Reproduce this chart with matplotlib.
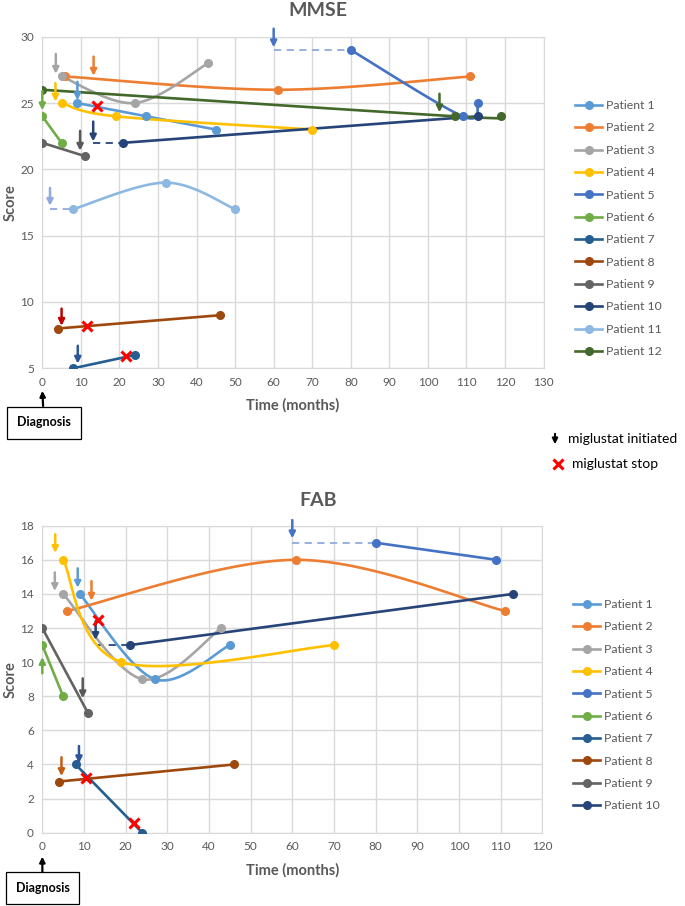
import numpy as np
import matplotlib
matplotlib.use("Agg")
import matplotlib.pyplot as plt
from matplotlib.lines import Line2D

plt.rcParams['font.family'] = ['Lato', 'DejaVu Sans']

W, H = 685, 906
GRID = '#D9D9D9'
TXT = '#595959'

patients = [f"Patient {i}" for i in range(1, 13)]
colors = ['#5B9BD5', '#ED7D31', '#A5A5A5', '#FFC000', '#4472C4', '#70AD47',
          '#255E91', '#9E480E', '#636363', '#264478', '#8CB8E2', '#43682B']

# ---------------- MMSE data ----------------
mmse_x = [[9, 27, 45], [6, 61, 111], [5, 24, 43], [5, 19, 70], [80, 109, 113], [0, 5],
          [8, 24], [4, 46], [0, 11], [21, 113], [8, 32, 50], [0, 107, 119]]
mmse_y = [[25, 24, 23], [27, 26, 27], [27, 25, 28], [25, 24, 23], [29, 24, 25], [24, 22],
          [5, 6], [8, 9], [22, 21], [22, 24], [17, 19, 17], [26, 24, 24]]
# miglustat initiated arrows: patient index, month, arrow tail y, arrow tip y
mmse_start_pat = [2, 1, 3, 0, 5, 9, 8, 10, 4, 11, 7, 6]
mmse_start_x = [3.5, 13.3, 3.4, 9.1, 0, 13.2, 9.8, 2, 60, 103, 5, 9.2]
mmse_start_y0 = [28.7, 28.5, 26.5, 26.6, 25.9, 23.6, 22.9, 18.6, 30.6, 25.7, 9.5, 6.7]
mmse_start_y1 = [27.2, 27.05, 25.1, 25.2, 24.45, 22.1, 21.4, 17.25, 29.2, 24.3, 8.2, 5.35]
mmse_arrow_col = ['#A5A5A5', '#ED7D31', '#FFC000', '#5B9BD5', '#70AD47', '#264478',
                  '#595959', '#8FAADC', '#4472C4', '#43682B', '#C00000', '#2E5597']
# dashed waiting lines: patient, from month, to month, level
mmse_dash_pat = [4, 9, 10]
mmse_dash_x0 = [60, 13.2, 2]
mmse_dash_x1 = [80, 21, 8]
mmse_dash_y = [29, 22, 17]
# miglustat stop
mmse_stop_x = [14.3, 11.6, 21.7]
mmse_stop_y = [24.8, 8.2, 5.9]

# ---------------- FAB data ----------------
fab_x = [[9, 27, 45], [6, 61, 111], [5, 24, 43], [5, 19, 70], [80, 109], [0, 5],
         [8, 24], [4, 46], [0, 11], [21, 113]]
fab_y = [[14, 9, 11], [13, 16, 13], [14, 9, 12], [16, 10, 11], [17, 16], [11, 8],
         [4, 0], [3, 4], [12, 7], [11, 14]]
fab_start_pat = [3, 2, 0, 1, 9, 5, 8, 4, 7, 6]
fab_start_x = [3.1, 3, 8.5, 11.8, 12.8, 0, 9.7, 60, 4.6, 8.8]
fab_start_y0 = [17.5, 15.26, 15.5, 14.75, 12.4, 9.35, 9.05, 18.33, 4.42, 5.08]
fab_start_y1 = [16.4, 14.17, 14.36, 13.6, 11.3, 10.3, 7.88, 17.26, 3.32, 4.07]
fab_arrow_col = ['#FFC000', '#A5A5A5', '#5B9BD5', '#ED7D31', '#264478', '#70AD47',
                 '#595959', '#4472C4', '#C55A11', '#2E5597']
fab_dash_pat = [4, 9]
fab_dash_x0 = [60, 12.8]
fab_dash_x1 = [80, 21]
fab_dash_y = [17, 11]
fab_stop_x = [13.3, 10.5, 21.9]
fab_stop_y = [12.5, 3.2, 0.55]

dash_colors = {4: '#8FAADC', 9: '#264478', 10: '#8FAADC'}


def smooth(xs, ys, n=40):
    pts = np.column_stack([xs, ys]).astype(float)
    if len(pts) < 3:
        return pts[:, 0], pts[:, 1]
    out = []
    for i in range(len(pts) - 1):
        p0 = pts[i - 1] if i > 0 else pts[i]
        p1 = pts[i]
        p2 = pts[i + 1]
        p3 = pts[i + 2] if i + 2 < len(pts) else pts[i + 1]
        c1 = p1 + (p2 - p0) / 6
        c2 = p2 - (p3 - p1) / 6
        t = np.linspace(0, 1, n)[:, None]
        seg = (1 - t) ** 3 * p1 + 3 * (1 - t) ** 2 * t * c1 + 3 * (1 - t) * t ** 2 * c2 + t ** 3 * p2
        out.append(seg if i == 0 else seg[1:])
    seg = np.vstack(out)
    return seg[:, 0], seg[:, 1]


fig = plt.figure(figsize=(W / 100, H / 100), dpi=100)


def px_rect(l, t, r, b):
    return [l / W, 1 - b / H, (r - l) / W, (b - t) / H]


def setup(ax, xmax, xstep, ymin, ymax, ystep, title, title_xy, xlab_y):
    ax.set_xlim(0, xmax)
    ax.set_ylim(ymin, ymax)
    ax.set_xticks(np.arange(0, xmax + 1, xstep))
    ax.set_yticks(np.arange(ymin, ymax + 0.1, ystep))
    ax.grid(True, color=GRID, lw=1)
    ax.set_axisbelow(True)
    for s in ax.spines.values():
        s.set_color(GRID)
    ax.tick_params(length=0, labelsize=8.5, colors=TXT, pad=6)
    ax.set_xlabel('Time (months)', fontsize=10.5, fontweight='bold', color=TXT)
    ax.set_ylabel('Score', fontsize=10.5, fontweight='bold', color=TXT)
    ax.xaxis.set_label_coords(0.5, xlab_y)
    ax.yaxis.set_label_coords(-0.05, 0.5)
    fig.text(title_xy[0] / W, 1 - title_xy[1] / H, title, fontsize=14, fontweight='bold',
             color=TXT, ha='center', va='center')


def draw(ax, xs_list, ys_list, n, spat, sx, sy0, sy1, scol, dpat, dx0, dx1, dy, stx, sty):
    handles = []
    for i in range(n):
        xx, yy = smooth(xs_list[i], ys_list[i])
        ax.plot(xx, yy, color=colors[i], lw=1.9, zorder=3, solid_capstyle='round')
        ax.plot(xs_list[i], ys_list[i], ls='none', marker='o', ms=5.5, color=colors[i], zorder=4)
        handles.append(Line2D([], [], color=colors[i], lw=1.9, marker='o', ms=5.5, label=patients[i]))
    for p, a, b, y in zip(dpat, dx0, dx1, dy):
        ax.plot([a, b], [y, y], ls=(0, (4, 3)), color=dash_colors[p], lw=1.3, zorder=2)
    for p, x, y0, y1, c in zip(spat, sx, sy0, sy1, scol):
        ax.annotate('', xy=(x, y1), xytext=(x, y0),
                    arrowprops=dict(arrowstyle='-|>', color=c, lw=1.8, mutation_scale=9,
                                    shrinkA=0, shrinkB=0),
                    annotation_clip=False, zorder=5)
    ax.plot(stx, sty, ls='none', marker='x', color='#FF0000', ms=7, mew=2.2, zorder=6)
    return handles


# ---------------- MMSE axes ----------------
ax1 = fig.add_axes(px_rect(42.3, 36.7, 543.6, 368.3))
setup(ax1, 130, 10, 5, 30, 5, 'MMSE', (318, 10), -0.09)
h1 = draw(ax1, mmse_x, mmse_y, 12, mmse_start_pat, mmse_start_x, mmse_start_y0, mmse_start_y1,
          mmse_arrow_col, mmse_dash_pat, mmse_dash_x0, mmse_dash_x1, mmse_dash_y,
          mmse_stop_x, mmse_stop_y)
fig.legend(handles=h1, loc='upper left', bbox_to_anchor=(569 / W, 1 - 94 / H), frameon=False,
           fontsize=8.8, labelspacing=0.93, handlelength=2.2, handletextpad=0.3, borderpad=0,
           labelcolor=TXT)
ax1.annotate('Diagnosis', xy=(0, -0.068), xycoords=('data', 'axes fraction'),
             xytext=(44 / W, 1 - 422.5 / H), textcoords='figure fraction',
             ha='center', va='center', fontsize=9, fontweight='bold', color='black',
             bbox=dict(boxstyle='square,pad=0.8', fc='white', ec='black', lw=0.9),
             arrowprops=dict(arrowstyle='-|>', color='black', lw=1.6, mutation_scale=8,
                             shrinkA=0, shrinkB=0),
             annotation_clip=False)

# ---------------- FAB axes ----------------
ax2 = fig.add_axes(px_rect(42.3, 525.7, 542.3, 832.7))
setup(ax2, 120, 10, 0, 18, 2, 'FAB', (318, 500), -0.099)
h2 = draw(ax2, fab_x, fab_y, 10, fab_start_pat, fab_start_x, fab_start_y0, fab_start_y1,
          fab_arrow_col, fab_dash_pat, fab_dash_x0, fab_dash_x1, fab_dash_y,
          fab_stop_x, fab_stop_y)
fig.legend(handles=h2, loc='upper left', bbox_to_anchor=(567 / W, 1 - 593 / H), frameon=False,
           fontsize=8.8, labelspacing=0.93, handlelength=2.2, handletextpad=0.3, borderpad=0,
           labelcolor=TXT)
ax2.annotate('Diagnosis', xy=(0, -0.078), xycoords=('data', 'axes fraction'),
             xytext=(42.5 / W, 1 - 888.4 / H), textcoords='figure fraction',
             ha='center', va='center', fontsize=9, fontweight='bold', color='black',
             bbox=dict(boxstyle='square,pad=0.8', fc='white', ec='black', lw=0.9),
             arrowprops=dict(arrowstyle='-|>', color='black', lw=1.6, mutation_scale=8,
                             shrinkA=0, shrinkB=0),
             annotation_clip=False)

# ---------------- marker key ----------------
fig.add_artist(matplotlib.patches.FancyArrowPatch(
    (555 / W, 1 - 431 / H), (555 / W, 1 - 447 / H), transform=fig.transFigure,
    arrowstyle='-|>', mutation_scale=8, color='black', lw=1.5))
fig.text(568 / W, 1 - 439 / H, 'miglustat initiated', fontsize=10, color='black', va='center')
fig.add_artist(Line2D([557.5 / W], [1 - 464.3 / H], transform=fig.transFigure, marker='x',
                      color='#FF0000', ms=7, mew=2.2))
fig.text(571.5 / W, 1 - 464.3 / H, 'miglustat stop', fontsize=10, color='black', va='center')

fig.savefig('out.png', dpi=100)
